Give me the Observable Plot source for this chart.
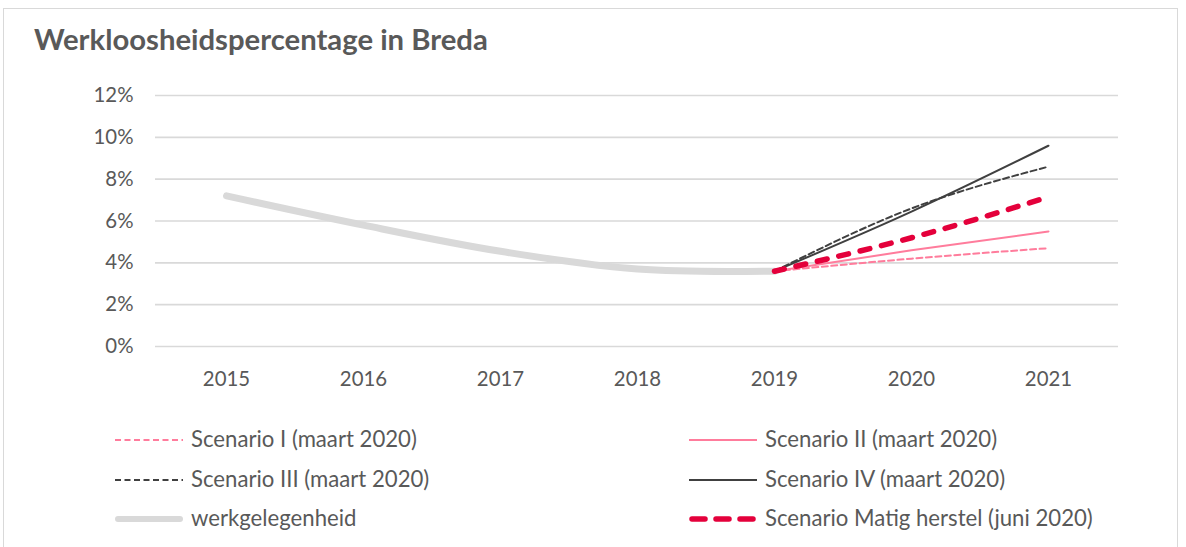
<!DOCTYPE html>
<html><head><meta charset="utf-8">
<script src="https://cdn.jsdelivr.net/npm/d3@7"></script>
<script src="https://cdn.jsdelivr.net/npm/@observablehq/plot@0.6"></script>
<style>
body{margin:0;background:#fff;font-family:Lato,sans-serif;}
#frame{position:absolute;left:3px;top:8px;width:1175px;height:600px;border:1px solid #d9d9d9;box-sizing:border-box;}
#chart{position:absolute;left:0;top:70px;}
#overlay{position:absolute;left:0;top:0;}
</style>
</head><body>
<div id="frame"></div>
<div id="chart"></div>
<svg id="overlay" width="1186" height="547"></svg>
<script>
// ---- data ----
const years = [2015, 2016, 2017, 2018, 2019, 2020, 2021];
const histYears = [2015, 2016, 2017, 2018, 2019];
const werkgelegenheid = [7.2, 5.8, 4.55, 3.7, 3.6];
const scenYears = [2019, 2020, 2021];
const scenarioI = [3.6, 4.2, 4.7];
const scenarioII = [3.6, 4.6, 5.5];
const scenarioIII = [3.6, 6.6, 8.6];
const scenarioIV = [3.6, 6.45, 9.6];
const scenarioMatig = [3.6, 5.2, 7.15];
const yTicks = [0, 2, 4, 6, 8, 10, 12];
const titleText = "Werkloosheidspercentage in Breda";
const legendLabels = ["Scenario I (maart 2020)", "Scenario II (maart 2020)", "Scenario III (maart 2020)",
  "Scenario IV (maart 2020)", "werkgelegenheid", "Scenario Matig herstel (juni 2020)"];

// ---- font fitting ----
const ctx = document.createElement("canvas").getContext("2d");
function fit(text, weight, target) {
  ctx.font = `${weight} 100px Lato`;
  return 100 * target / ctx.measureText(text).width;
}
const titleSize = fit(titleText, "bold", 454);
const legendSize = fit(legendLabels[0], "normal", 226);
const tickSize = fit("12%", "normal", 40);

const toRows = (xs, vs) => xs.map((x, i) => ({year: x, value: vs[i]}));

const styles = [
  {data: toRows(histYears, werkgelegenheid), stroke: "#d9d9d9", strokeWidth: 7, dash: null, curve: "catmull-rom"},
  {data: toRows(scenYears, scenarioI), stroke: "#ff7c9c", strokeWidth: 2, dash: "6,3.5", curve: "monotone-x"},
  {data: toRows(scenYears, scenarioII), stroke: "#ff7c9c", strokeWidth: 2, dash: null, curve: "monotone-x"},
  {data: toRows(scenYears, scenarioIII), stroke: "#404040", strokeWidth: 2, dash: "6,3.5", curve: "monotone-x"},
  {data: toRows(scenYears, scenarioIV), stroke: "#404040", strokeWidth: 2, dash: null, curve: "monotone-x"},
  {data: toRows(scenYears, scenarioMatig), stroke: "#e4003b", strokeWidth: 5.5, dash: "10,12", curve: "monotone-x"}
];

const chart = Plot.plot({
  width: 1186, height: 330,
  marginTop: 25, marginBottom: 54, marginLeft: 155, marginRight: 68,
  x: {type: "point", domain: years, padding: 0.5, label: null, tickSize: 0, tickPadding: 25, tickFormat: d => String(d)},
  y: {domain: [0, 12], ticks: yTicks, tickFormat: d => d + "%", label: null, tickSize: 0, tickPadding: 22},
  style: {fontFamily: "Lato, sans-serif", fontSize: tickSize + "px", color: "#595959", background: "transparent", overflow: "visible"},
  marks: [
    Plot.ruleY(yTicks, {stroke: "#d9d9d9", strokeWidth: 1.6}),
    ...styles.map(s => Plot.line(s.data, {
      x: "year", y: "value", stroke: s.stroke, strokeWidth: s.strokeWidth,
      strokeDasharray: s.dash ?? undefined, curve: s.curve,
      strokeLinecap: "round", strokeLinejoin: "round"
    }))
  ]
});
document.getElementById("chart").appendChild(chart);

// ---- title & legend ----
const ov = d3.select("#overlay");
ov.append("text").attr("x", 34).attr("y", 50).attr("fill", "#595959")
  .attr("font-family", "Lato, sans-serif").attr("font-weight", "bold").attr("font-size", titleSize)
  .text(titleText);

const legendStyleIdx = [1, 2, 3, 4, 0, 5];
const rowsY = [440, 480, 519];
const baseY = [447, 487, 526];
legendLabels.forEach((lab, i) => {
  const col = i % 2, row = Math.floor(i / 2);
  const s = styles[legendStyleIdx[i]];
  const x0 = col === 0 ? 115 : 689, x1 = col === 0 ? 183 : 757;
  const tx = col === 0 ? 191 : 765;
  const isMatig = legendStyleIdx[i] === 5, isGray = legendStyleIdx[i] === 0;
  ov.append("line").attr("x1", x0 + (isMatig || isGray ? 3 : 0)).attr("x2", x1 - (isMatig || isGray ? 3 : 0))
    .attr("y1", rowsY[row]).attr("y2", rowsY[row])
    .attr("stroke", s.stroke).attr("stroke-width", isGray ? 6 : s.strokeWidth)
    .attr("stroke-dasharray", isMatig ? "13,11" : s.dash)
    .attr("stroke-linecap", isMatig || isGray ? "round" : "butt");
  ov.append("text").attr("x", tx).attr("y", baseY[row]).attr("fill", "#595959")
    .attr("font-family", "Lato, sans-serif").attr("font-size", legendSize).text(lab);
});
</script>
</body></html>
